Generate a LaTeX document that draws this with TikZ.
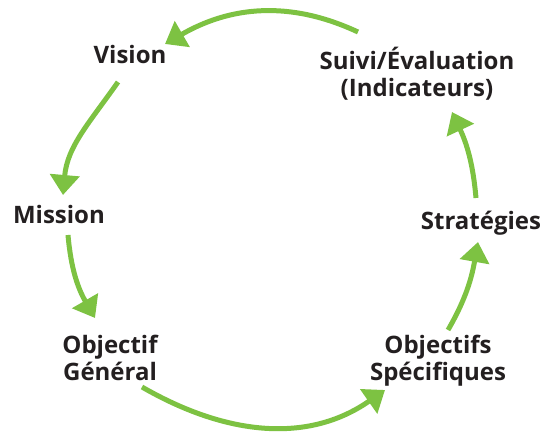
\documentclass[tikz,border=0pt]{standalone}
\usepackage{fontspec}
\setmainfont{Open Sans}
\usetikzlibrary{arrows.meta}
\definecolor{lgreen}{HTML}{7DC242}
\definecolor{txt}{HTML}{231F20}
\begin{document}
\begin{tikzpicture}[x=1pt,y=1pt,
  lbl/.style={inner sep=0pt, align=center, text=txt, font=\fontsize{24}{27}\selectfont\bfseries},
  cyc/.style={draw=lgreen, line width=5pt, -{Triangle[length=20pt,width=29pt]}}]
\useasboundingbox (0,0) rectangle (555,432);
\node[lbl, anchor=base] (vision) at (130,368) {Vision};
\node[lbl] (suivi) at (417,358) {Suivi/Évaluation\\(Indicateurs)};
\node[lbl, anchor=base] (mission) at (59,208) {Mission};
\node[lbl, anchor=base] (strat) at (481,203) {Stratégies};
\node[lbl] (objg) at (110,74) {Objectif\\Général};
\node[lbl] (objs) at (438,71) {Objectifs\\Spécifiques};
% connector ends
\coordinate (a1s) at (358,400);
\coordinate (a1e) at (165,388);
\coordinate (a2s) at (118,350);
\coordinate (a2e) at (63,237);
\coordinate (a3s) at (68,197);
\coordinate (a3e) at (95,114);
\coordinate (a4s) at (142,45);
\coordinate (a4e) at (385,42);
\coordinate (a5s) at (448,102);
\coordinate (a5e) at (478,190);
\coordinate (a6s) at (476,234);
\coordinate (a6e) at (452,320);
\draw[cyc] (a1s) to[out=155,in=30] (a1e);
\draw[cyc] (a2s) to[out=235,in=85] (a2e);
\draw[cyc] (a3s) to[out=275,in=120] (a3e);
\draw[cyc] (a4s) to[out=-30,in=215] (a4e);
\draw[cyc] (a5s) to[out=60,in=260] (a5e);
\draw[cyc] (a6s) to[out=95,in=295] (a6e);
\end{tikzpicture}
\end{document}
